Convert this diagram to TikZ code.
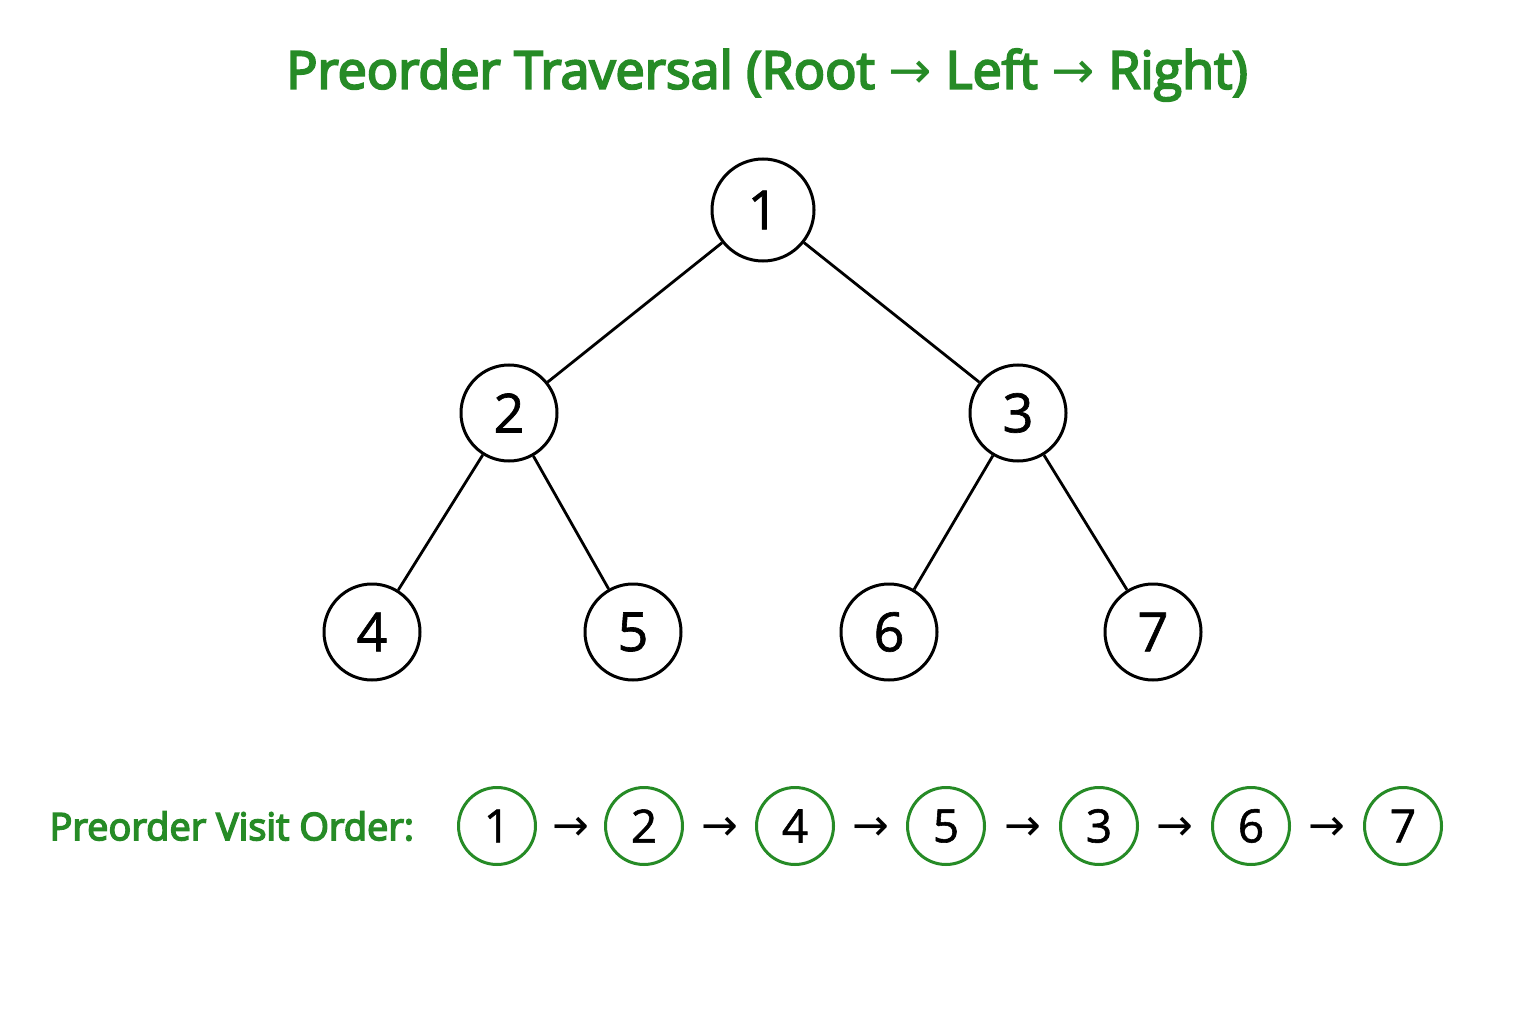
\documentclass[tikz,border=0pt]{standalone}
\usepackage{fontspec}
\usetikzlibrary{calc}
\setmainfont{Open Sans}
\newfontfamily\arrowfont{DejaVu Sans}
\newfontfamily\medfont[FakeBold=4]{Open Sans}
\newfontfamily\digitfont[FakeBold=1.2]{Open Sans}
\definecolor{tgreen}{RGB}{38,139,38}
\begin{document}
\begin{tikzpicture}[x=1pt,y=-1pt,
  tnode/.style={circle,draw=black,line width=3pt,minimum size=96pt,inner sep=0pt,font=\digitfont\fontsize{54}{60}\selectfont},
  vnode/.style={circle,draw=tgreen,line width=3pt,minimum size=77pt,inner sep=0pt,font=\digitfont\fontsize{46}{52}\selectfont},
  edge/.style={line width=2.8pt,black},
  arr/.style={font=\arrowfont\fontsize{44}{50}\selectfont,inner sep=0pt,yshift=-3pt}]
\useasboundingbox[fill=white] (0,0) rectangle (1536,1024);
\node[text=tgreen,font=\medfont\fontsize{52}{60}\selectfont] (title) at (767,75)
  {Preorder Traversal (Root {\arrowfont →}\ Left {\arrowfont →} Right)};
\node[tnode,minimum size=102pt] (n1) at (763,210) {1};
\node[tnode] (n2) at (509,413) {2};
\node[tnode] (n3) at (1018,413) {3};
\node[tnode] (n4) at (372,632) {4};
\node[tnode] (n5) at (633,632) {5};
\node[tnode] (n6) at (889,632) {6};
\node[tnode] (n7) at (1153,632) {7};
\draw[edge] (n1) -- (n2);
\draw[edge] (n1) -- (n3);
\draw[edge] (n2) -- (n4);
\draw[edge] (n2) -- (n5);
\draw[edge] (n3) -- (n6);
\draw[edge] (n3) -- (n7);
\node[text=tgreen,font=\medfont\fontsize{38}{44}\selectfont,anchor=west] (lbl) at (46,826) {Preorder Visit Order:};
\node[vnode] (v1) at (497,826) {1};
\node[vnode] (v2) at (644,826) {2};
\node[vnode] (v3) at (795,826) {4};
\node[vnode] (v4) at (946,826) {5};
\node[vnode] (v5) at (1099,826) {3};
\node[vnode] (v6) at (1251,826) {6};
\node[vnode] (v7) at (1403,826) {7};
\node[arr] (a1) at ($(v1)!0.5!(v2)$) {→};
\node[arr] (a2) at ($(v2)!0.5!(v3)$) {→};
\node[arr] (a3) at ($(v3)!0.5!(v4)$) {→};
\node[arr] (a4) at ($(v4)!0.5!(v5)$) {→};
\node[arr] (a5) at ($(v5)!0.5!(v6)$) {→};
\node[arr] (a6) at ($(v6)!0.5!(v7)$) {→};
\end{tikzpicture}
\end{document}
